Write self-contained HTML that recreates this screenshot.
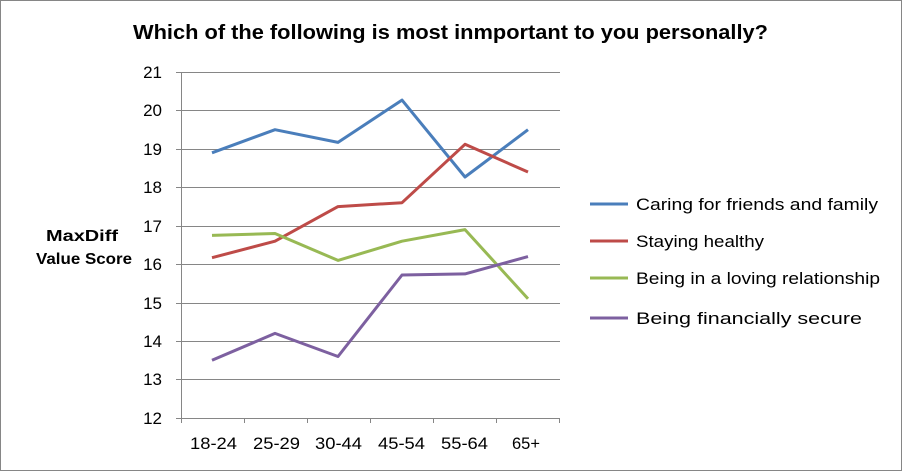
<!DOCTYPE html>
<html><head><style>
body{margin:0;background:#fff}
svg{display:block}
text{font-family:"Liberation Sans",sans-serif}
</style></head><body>
<svg width="902" height="471" viewBox="0 0 902 471" xmlns="http://www.w3.org/2000/svg">
<rect x="0.5" y="0.5" width="901" height="470" fill="#fff" stroke="#868686"/>
<text x="133" y="39" font-size="20" font-weight="bold" textLength="635" lengthAdjust="spacingAndGlyphs">Which of the following is most inmportant to you personally?</text>
<g stroke="#868686" stroke-width="1">
<line x1="181" y1="72.5" x2="560" y2="72.5"/>
<line x1="181" y1="110.5" x2="560" y2="110.5"/>
<line x1="181" y1="149.5" x2="560" y2="149.5"/>
<line x1="181" y1="187.5" x2="560" y2="187.5"/>
<line x1="181" y1="226.5" x2="560" y2="226.5"/>
<line x1="181" y1="264.5" x2="560" y2="264.5"/>
<line x1="181" y1="303.5" x2="560" y2="303.5"/>
<line x1="181" y1="341.5" x2="560" y2="341.5"/>
<line x1="181" y1="379.5" x2="560" y2="379.5"/>
<line x1="181" y1="418.5" x2="560" y2="418.5"/>
<line x1="181.5" y1="72" x2="181.5" y2="423"/>
<line x1="176" y1="72.5" x2="181" y2="72.5"/><line x1="176" y1="110.5" x2="181" y2="110.5"/><line x1="176" y1="149.5" x2="181" y2="149.5"/><line x1="176" y1="187.5" x2="181" y2="187.5"/><line x1="176" y1="226.5" x2="181" y2="226.5"/><line x1="176" y1="264.5" x2="181" y2="264.5"/><line x1="176" y1="303.5" x2="181" y2="303.5"/><line x1="176" y1="341.5" x2="181" y2="341.5"/><line x1="176" y1="379.5" x2="181" y2="379.5"/><line x1="176" y1="418.5" x2="181" y2="418.5"/>
<line x1="244.5" y1="418" x2="244.5" y2="423"/><line x1="307.5" y1="418" x2="307.5" y2="423"/><line x1="370.5" y1="418" x2="370.5" y2="423"/><line x1="433.5" y1="418" x2="433.5" y2="423"/><line x1="496.5" y1="418" x2="496.5" y2="423"/><line x1="559.5" y1="418" x2="559.5" y2="423"/>
</g>
<g font-size="17" text-anchor="end">
<text x="162" y="78">21</text><text x="162" y="116">20</text><text x="162" y="155">19</text><text x="162" y="193">18</text><text x="162" y="232">17</text><text x="162" y="270">16</text><text x="162" y="309">15</text><text x="162" y="347">14</text><text x="162" y="385">13</text><text x="162" y="424">12</text>
</g>
<g font-size="17">
<text x="190" y="449" textLength="47" lengthAdjust="spacingAndGlyphs">18-24</text>
<text x="253" y="449" textLength="47" lengthAdjust="spacingAndGlyphs">25-29</text>
<text x="315" y="449" textLength="47" lengthAdjust="spacingAndGlyphs">30-44</text>
<text x="378" y="449" textLength="47" lengthAdjust="spacingAndGlyphs">45-54</text>
<text x="441" y="449" textLength="47" lengthAdjust="spacingAndGlyphs">55-64</text>
<text x="512" y="449" textLength="28" lengthAdjust="spacingAndGlyphs">65+</text>
</g>
<text x="46" y="241" font-size="16" font-weight="bold" textLength="72" lengthAdjust="spacingAndGlyphs">MaxDiff</text>
<text x="36" y="264" font-size="16" font-weight="bold" textLength="96" lengthAdjust="spacingAndGlyphs">Value Score</text>
<g fill="none" stroke-width="3" stroke-linejoin="round">
<polyline stroke="#4A7EBB" points="212,152.8 275,129.7 338,142.4 402,100.1 465,177 528,129.7"/>
<polyline stroke="#BE4B48" points="212,257.7 275,241.2 338,206.6 402,202.7 465,144.3 528,172"/>
<polyline stroke="#98B954" points="212,235.4 275,233.5 338,260.4 402,241.2 465,229.6 528,298.8"/>
<polyline stroke="#7D60A0" points="212,360.3 275,333.4 338,356.5 402,275 465,273.9 528,256.6"/>
</g>
<g stroke-width="3">
<line x1="590" y1="204" x2="628" y2="204" stroke="#4A7EBB"/>
<line x1="590" y1="241" x2="628" y2="241" stroke="#BE4B48"/>
<line x1="590" y1="278" x2="628" y2="278" stroke="#98B954"/>
<line x1="590" y1="318" x2="628" y2="318" stroke="#7D60A0"/>
</g>
<g font-size="17">
<text x="636" y="210" textLength="242" lengthAdjust="spacingAndGlyphs">Caring for friends and family</text>
<text x="636" y="247" textLength="128" lengthAdjust="spacingAndGlyphs">Staying healthy</text>
<text x="636" y="284" textLength="244" lengthAdjust="spacingAndGlyphs">Being in a loving relationship</text>
<text x="636" y="324" textLength="226" lengthAdjust="spacingAndGlyphs">Being financially secure</text>
</g>
</svg>
</body></html>
